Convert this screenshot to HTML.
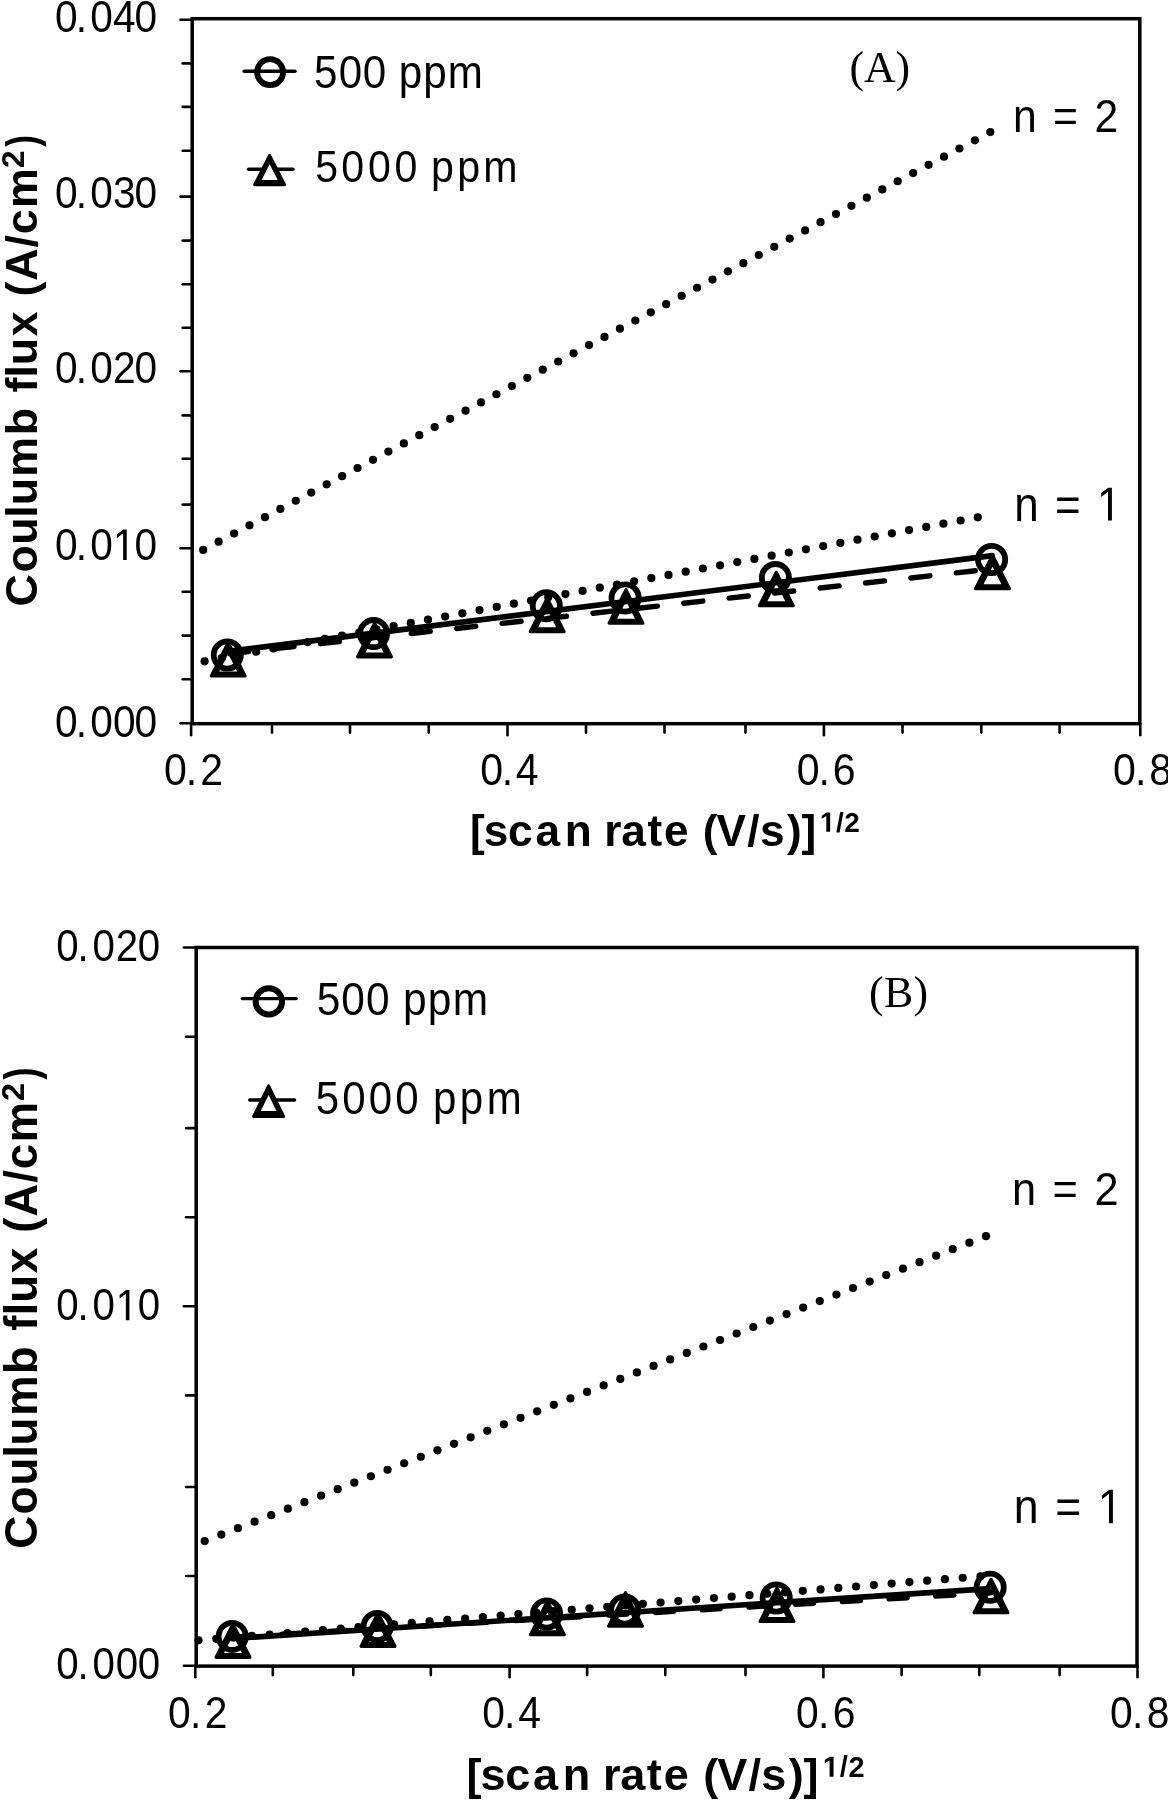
<!DOCTYPE html>
<html><head><meta charset="utf-8"><style>
html,body{margin:0;padding:0;background:#fff;}
svg{display:block;will-change:transform;}
text{fill:#000;}
</style></head><body>
<svg width="1168" height="1800" viewBox="0 0 1168 1800">
<rect width="1168" height="1800" fill="#fff"/>
<rect x="192.2" y="18.7" width="947.6" height="705" fill="none" stroke="#000" stroke-width="3.5"/>
<line x1="180.5" y1="723.3" x2="192.2" y2="723.3" stroke="#000" stroke-width="2.6" stroke-linecap="round"/>
<line x1="182.7" y1="679.3" x2="192.2" y2="679.3" stroke="#000" stroke-width="2.6" stroke-linecap="round"/>
<line x1="182.7" y1="635.6" x2="192.2" y2="635.6" stroke="#000" stroke-width="2.6" stroke-linecap="round"/>
<line x1="182.7" y1="591.8" x2="192.2" y2="591.8" stroke="#000" stroke-width="2.6" stroke-linecap="round"/>
<line x1="180.5" y1="548.3" x2="192.2" y2="548.3" stroke="#000" stroke-width="2.6" stroke-linecap="round"/>
<line x1="182.7" y1="504.6" x2="192.2" y2="504.6" stroke="#000" stroke-width="2.6" stroke-linecap="round"/>
<line x1="182.7" y1="458.7" x2="192.2" y2="458.7" stroke="#000" stroke-width="2.6" stroke-linecap="round"/>
<line x1="182.7" y1="415.4" x2="192.2" y2="415.4" stroke="#000" stroke-width="2.6" stroke-linecap="round"/>
<line x1="180.5" y1="371.3" x2="192.2" y2="371.3" stroke="#000" stroke-width="2.6" stroke-linecap="round"/>
<line x1="182.7" y1="327.8" x2="192.2" y2="327.8" stroke="#000" stroke-width="2.6" stroke-linecap="round"/>
<line x1="182.7" y1="284.2" x2="192.2" y2="284.2" stroke="#000" stroke-width="2.6" stroke-linecap="round"/>
<line x1="182.7" y1="240.6" x2="192.2" y2="240.6" stroke="#000" stroke-width="2.6" stroke-linecap="round"/>
<line x1="180.5" y1="196.6" x2="192.2" y2="196.6" stroke="#000" stroke-width="2.6" stroke-linecap="round"/>
<line x1="182.7" y1="150.7" x2="192.2" y2="150.7" stroke="#000" stroke-width="2.6" stroke-linecap="round"/>
<line x1="182.7" y1="106.9" x2="192.2" y2="106.9" stroke="#000" stroke-width="2.6" stroke-linecap="round"/>
<line x1="182.7" y1="63.4" x2="192.2" y2="63.4" stroke="#000" stroke-width="2.6" stroke-linecap="round"/>
<line x1="180.5" y1="19.8" x2="192.2" y2="19.8" stroke="#000" stroke-width="2.6" stroke-linecap="round"/>
<line x1="191.1" y1="723.7" x2="191.1" y2="735.2" stroke="#000" stroke-width="2.6" stroke-linecap="round"/>
<line x1="272" y1="723.7" x2="272" y2="732.6" stroke="#000" stroke-width="2.6" stroke-linecap="round"/>
<line x1="350" y1="723.7" x2="350" y2="732.6" stroke="#000" stroke-width="2.6" stroke-linecap="round"/>
<line x1="428.7" y1="723.7" x2="428.7" y2="732.6" stroke="#000" stroke-width="2.6" stroke-linecap="round"/>
<line x1="507.5" y1="723.7" x2="507.5" y2="735.2" stroke="#000" stroke-width="2.6" stroke-linecap="round"/>
<line x1="586" y1="723.7" x2="586" y2="732.6" stroke="#000" stroke-width="2.6" stroke-linecap="round"/>
<line x1="664.5" y1="723.7" x2="664.5" y2="732.6" stroke="#000" stroke-width="2.6" stroke-linecap="round"/>
<line x1="745.5" y1="723.7" x2="745.5" y2="732.6" stroke="#000" stroke-width="2.6" stroke-linecap="round"/>
<line x1="823.9" y1="723.7" x2="823.9" y2="735.2" stroke="#000" stroke-width="2.6" stroke-linecap="round"/>
<line x1="902.5" y1="723.7" x2="902.5" y2="732.6" stroke="#000" stroke-width="2.6" stroke-linecap="round"/>
<line x1="981.3" y1="723.7" x2="981.3" y2="732.6" stroke="#000" stroke-width="2.6" stroke-linecap="round"/>
<line x1="1059.6" y1="723.7" x2="1059.6" y2="732.6" stroke="#000" stroke-width="2.6" stroke-linecap="round"/>
<line x1="1140.3" y1="723.7" x2="1140.3" y2="735.2" stroke="#000" stroke-width="2.6" stroke-linecap="round"/>
<line x1="244.2" y1="71.2" x2="295" y2="71.2" stroke="#000" stroke-width="3.5" stroke-linecap="round"/>
<circle cx="270.1" cy="72.2" r="13.0" fill="none" stroke="#000" stroke-width="5.8"/>
<line x1="248.6" y1="169.2" x2="292.9" y2="169.2" stroke="#000" stroke-width="3.6" stroke-linecap="round"/>
<path d="M254.65,184.7 L269.6,155.31 L284.55,184.7 Z" fill="#000" stroke="#000" stroke-width="3.0" stroke-linejoin="round"/>
<path d="M261.53,180 L269.6,164.13 L277.67,180 Z" fill="#fff"/>
<path d="M211.3,675.9 L228.2,642.54 L245.1,675.9 Z" fill="#000" stroke="#000" stroke-width="3.2" stroke-linejoin="round"/>
<path d="M219.25,671.5 L228.2,653.83 L237.15,671.5 Z" fill="#fff"/>
<path d="M357.6,656.8 L374.5,623.44 L391.4,656.8 Z" fill="#000" stroke="#000" stroke-width="3.2" stroke-linejoin="round"/>
<path d="M365.55,652.4 L374.5,634.73 L383.45,652.4 Z" fill="#fff"/>
<path d="M530.3,631.6 L547.2,598.24 L564.1,631.6 Z" fill="#000" stroke="#000" stroke-width="3.2" stroke-linejoin="round"/>
<path d="M538.25,627.2 L547.2,609.53 L556.15,627.2 Z" fill="#fff"/>
<path d="M609.1,623.1 L626,589.74 L642.9,623.1 Z" fill="#000" stroke="#000" stroke-width="3.2" stroke-linejoin="round"/>
<path d="M617.05,618.7 L626,601.03 L634.95,618.7 Z" fill="#fff"/>
<path d="M759.4,605.7 L776.3,572.34 L793.2,605.7 Z" fill="#000" stroke="#000" stroke-width="3.2" stroke-linejoin="round"/>
<path d="M767.35,601.3 L776.3,583.63 L785.25,601.3 Z" fill="#fff"/>
<path d="M975.6,588.7 L992.5,555.34 L1009.4,588.7 Z" fill="#000" stroke="#000" stroke-width="3.2" stroke-linejoin="round"/>
<path d="M983.55,584.3 L992.5,566.63 L1001.45,584.3 Z" fill="#fff"/>
<circle cx="203.2" cy="549.9" r="4.1"/>
<circle cx="218.63" cy="541.71" r="4.1"/>
<circle cx="234.07" cy="533.52" r="4.1"/>
<circle cx="249.5" cy="525.32" r="4.1"/>
<circle cx="264.93" cy="517.13" r="4.1"/>
<circle cx="280.37" cy="508.94" r="4.1"/>
<circle cx="295.8" cy="500.75" r="4.1"/>
<circle cx="311.23" cy="492.55" r="4.1"/>
<circle cx="326.67" cy="484.36" r="4.1"/>
<circle cx="342.1" cy="476.17" r="4.1"/>
<circle cx="357.53" cy="467.98" r="4.1"/>
<circle cx="372.97" cy="459.79" r="4.1"/>
<circle cx="388.4" cy="451.59" r="4.1"/>
<circle cx="403.83" cy="443.4" r="4.1"/>
<circle cx="419.27" cy="435.21" r="4.1"/>
<circle cx="434.7" cy="427.02" r="4.1"/>
<circle cx="450.13" cy="418.83" r="4.1"/>
<circle cx="465.57" cy="410.63" r="4.1"/>
<circle cx="481" cy="402.44" r="4.1"/>
<circle cx="496.43" cy="394.25" r="4.1"/>
<circle cx="511.87" cy="386.06" r="4.1"/>
<circle cx="527.3" cy="377.86" r="4.1"/>
<circle cx="542.73" cy="369.67" r="4.1"/>
<circle cx="558.17" cy="361.48" r="4.1"/>
<circle cx="573.6" cy="353.29" r="4.1"/>
<circle cx="589.03" cy="345.1" r="4.1"/>
<circle cx="604.47" cy="336.9" r="4.1"/>
<circle cx="619.9" cy="328.71" r="4.1"/>
<circle cx="635.33" cy="320.52" r="4.1"/>
<circle cx="650.77" cy="312.33" r="4.1"/>
<circle cx="666.2" cy="304.14" r="4.1"/>
<circle cx="681.63" cy="295.94" r="4.1"/>
<circle cx="697.07" cy="287.75" r="4.1"/>
<circle cx="712.5" cy="279.56" r="4.1"/>
<circle cx="727.93" cy="271.37" r="4.1"/>
<circle cx="743.37" cy="263.17" r="4.1"/>
<circle cx="758.8" cy="254.98" r="4.1"/>
<circle cx="774.23" cy="246.79" r="4.1"/>
<circle cx="789.67" cy="238.6" r="4.1"/>
<circle cx="805.1" cy="230.41" r="4.1"/>
<circle cx="820.53" cy="222.21" r="4.1"/>
<circle cx="835.97" cy="214.02" r="4.1"/>
<circle cx="851.4" cy="205.83" r="4.1"/>
<circle cx="866.83" cy="197.64" r="4.1"/>
<circle cx="882.27" cy="189.45" r="4.1"/>
<circle cx="897.7" cy="181.25" r="4.1"/>
<circle cx="913.13" cy="173.06" r="4.1"/>
<circle cx="928.57" cy="164.87" r="4.1"/>
<circle cx="944" cy="156.68" r="4.1"/>
<circle cx="959.43" cy="148.48" r="4.1"/>
<circle cx="974.87" cy="140.29" r="4.1"/>
<circle cx="990.3" cy="132.1" r="4.1"/>
<circle cx="204.6" cy="661.3" r="4.1"/>
<circle cx="221.78" cy="658.1" r="4.1"/>
<circle cx="238.96" cy="654.9" r="4.1"/>
<circle cx="256.15" cy="651.7" r="4.1"/>
<circle cx="273.33" cy="648.5" r="4.1"/>
<circle cx="290.51" cy="645.3" r="4.1"/>
<circle cx="307.69" cy="642.1" r="4.1"/>
<circle cx="324.88" cy="638.9" r="4.1"/>
<circle cx="342.06" cy="635.7" r="4.1"/>
<circle cx="359.24" cy="632.5" r="4.1"/>
<circle cx="376.42" cy="629.3" r="4.1"/>
<circle cx="393.6" cy="626.1" r="4.1"/>
<circle cx="410.79" cy="622.9" r="4.1"/>
<circle cx="427.97" cy="619.7" r="4.1"/>
<circle cx="445.15" cy="616.5" r="4.1"/>
<circle cx="462.33" cy="613.3" r="4.1"/>
<circle cx="479.52" cy="610.1" r="4.1"/>
<circle cx="496.7" cy="606.9" r="4.1"/>
<circle cx="513.88" cy="603.7" r="4.1"/>
<circle cx="531.06" cy="600.5" r="4.1"/>
<circle cx="548.24" cy="597.3" r="4.1"/>
<circle cx="565.43" cy="594.1" r="4.1"/>
<circle cx="582.61" cy="590.9" r="4.1"/>
<circle cx="599.79" cy="587.7" r="4.1"/>
<circle cx="616.97" cy="584.5" r="4.1"/>
<circle cx="634.16" cy="581.3" r="4.1"/>
<circle cx="651.34" cy="578.1" r="4.1"/>
<circle cx="668.52" cy="574.9" r="4.1"/>
<circle cx="685.7" cy="571.7" r="4.1"/>
<circle cx="702.88" cy="568.5" r="4.1"/>
<circle cx="720.07" cy="565.3" r="4.1"/>
<circle cx="737.25" cy="562.1" r="4.1"/>
<circle cx="754.43" cy="558.9" r="4.1"/>
<circle cx="771.61" cy="555.7" r="4.1"/>
<circle cx="788.8" cy="552.5" r="4.1"/>
<circle cx="805.98" cy="549.3" r="4.1"/>
<circle cx="823.16" cy="546.1" r="4.1"/>
<circle cx="840.34" cy="542.9" r="4.1"/>
<circle cx="857.52" cy="539.7" r="4.1"/>
<circle cx="874.71" cy="536.5" r="4.1"/>
<circle cx="891.89" cy="533.3" r="4.1"/>
<circle cx="909.07" cy="530.1" r="4.1"/>
<circle cx="926.25" cy="526.9" r="4.1"/>
<circle cx="943.44" cy="523.7" r="4.1"/>
<circle cx="960.62" cy="520.5" r="4.1"/>
<circle cx="977.8" cy="517.3" r="4.1"/>
<line x1="228.3" y1="651.4" x2="992.3" y2="555.6" stroke="#000" stroke-width="5.6" stroke-linecap="round"/>
<line x1="229.58" y1="653.7" x2="992.3" y2="568.9" stroke="#000" stroke-width="5.4" stroke-linecap="round" stroke-dasharray="19.15 26.55"/>
<circle cx="227.3" cy="655" r="13.6" fill="none" stroke="#000" stroke-width="5.8"/>
<circle cx="373.6" cy="633.6" r="13.6" fill="none" stroke="#000" stroke-width="5.8"/>
<circle cx="546.3" cy="605.8" r="13.6" fill="none" stroke="#000" stroke-width="5.8"/>
<circle cx="625.1" cy="598" r="13.6" fill="none" stroke="#000" stroke-width="5.8"/>
<circle cx="775.4" cy="577.6" r="13.6" fill="none" stroke="#000" stroke-width="5.8"/>
<circle cx="991.6" cy="559.5" r="13.6" fill="none" stroke="#000" stroke-width="5.8"/>
<rect x="196.2" y="947.5" width="940.8" height="718.6" fill="none" stroke="#000" stroke-width="3.5"/>
<line x1="183.9" y1="1665.8" x2="196.2" y2="1665.8" stroke="#000" stroke-width="2.6" stroke-linecap="round"/>
<line x1="186.1" y1="1576" x2="196.2" y2="1576" stroke="#000" stroke-width="2.6" stroke-linecap="round"/>
<line x1="186.1" y1="1487" x2="196.2" y2="1487" stroke="#000" stroke-width="2.6" stroke-linecap="round"/>
<line x1="186.1" y1="1395.4" x2="196.2" y2="1395.4" stroke="#000" stroke-width="2.6" stroke-linecap="round"/>
<line x1="183.9" y1="1306.2" x2="196.2" y2="1306.2" stroke="#000" stroke-width="2.6" stroke-linecap="round"/>
<line x1="186.1" y1="1217.3" x2="196.2" y2="1217.3" stroke="#000" stroke-width="2.6" stroke-linecap="round"/>
<line x1="186.1" y1="1128.1" x2="196.2" y2="1128.1" stroke="#000" stroke-width="2.6" stroke-linecap="round"/>
<line x1="186.1" y1="1036.8" x2="196.2" y2="1036.8" stroke="#000" stroke-width="2.6" stroke-linecap="round"/>
<line x1="183.9" y1="947.5" x2="196.2" y2="947.5" stroke="#000" stroke-width="2.6" stroke-linecap="round"/>
<line x1="195.3" y1="1666.1" x2="195.3" y2="1677.2" stroke="#000" stroke-width="2.6" stroke-linecap="round"/>
<line x1="272.8" y1="1666.1" x2="272.8" y2="1675.1" stroke="#000" stroke-width="2.6" stroke-linecap="round"/>
<line x1="353.3" y1="1666.1" x2="353.3" y2="1675.1" stroke="#000" stroke-width="2.6" stroke-linecap="round"/>
<line x1="430.8" y1="1666.1" x2="430.8" y2="1675.1" stroke="#000" stroke-width="2.6" stroke-linecap="round"/>
<line x1="509.6" y1="1666.1" x2="509.6" y2="1677.2" stroke="#000" stroke-width="2.6" stroke-linecap="round"/>
<line x1="587.1" y1="1666.1" x2="587.1" y2="1675.1" stroke="#000" stroke-width="2.6" stroke-linecap="round"/>
<line x1="665.3" y1="1666.1" x2="665.3" y2="1675.1" stroke="#000" stroke-width="2.6" stroke-linecap="round"/>
<line x1="745.5" y1="1666.1" x2="745.5" y2="1675.1" stroke="#000" stroke-width="2.6" stroke-linecap="round"/>
<line x1="823.4" y1="1666.1" x2="823.4" y2="1677.2" stroke="#000" stroke-width="2.6" stroke-linecap="round"/>
<line x1="901.6" y1="1666.1" x2="901.6" y2="1675.1" stroke="#000" stroke-width="2.6" stroke-linecap="round"/>
<line x1="979.3" y1="1666.1" x2="979.3" y2="1675.1" stroke="#000" stroke-width="2.6" stroke-linecap="round"/>
<line x1="1059.6" y1="1666.1" x2="1059.6" y2="1675.1" stroke="#000" stroke-width="2.6" stroke-linecap="round"/>
<line x1="1137.5" y1="1666.1" x2="1137.5" y2="1677.2" stroke="#000" stroke-width="2.6" stroke-linecap="round"/>
<line x1="242.4" y1="998.6" x2="296.2" y2="998.6" stroke="#000" stroke-width="3.4" stroke-linecap="round"/>
<circle cx="268.85" cy="1001.4" r="13.2" fill="none" stroke="#000" stroke-width="6.0"/>
<line x1="249.8" y1="1100" x2="294.5" y2="1100" stroke="#000" stroke-width="3.6" stroke-linecap="round"/>
<path d="M253.61,1116.5 L268.6,1085.91 L283.59,1116.5 Z" fill="#000" stroke="#000" stroke-width="3.0" stroke-linejoin="round"/>
<path d="M260.71,1111.1 L268.6,1095 L276.49,1111.1 Z" fill="#fff"/>
<path d="M216.1,1657.3 L233,1623.94 L249.9,1657.3 Z" fill="#000" stroke="#000" stroke-width="3.2" stroke-linejoin="round"/>
<path d="M224.05,1652.9 L233,1635.23 L241.95,1652.9 Z" fill="#fff"/>
<path d="M361.1,1646.3 L378,1612.94 L394.9,1646.3 Z" fill="#000" stroke="#000" stroke-width="3.2" stroke-linejoin="round"/>
<path d="M369.05,1641.9 L378,1624.23 L386.95,1641.9 Z" fill="#fff"/>
<path d="M530.5,1634.7 L547.4,1601.34 L564.3,1634.7 Z" fill="#000" stroke="#000" stroke-width="3.2" stroke-linejoin="round"/>
<path d="M538.45,1630.3 L547.4,1612.63 L556.35,1630.3 Z" fill="#fff"/>
<path d="M608.6,1626.1 L625.5,1592.74 L642.4,1626.1 Z" fill="#000" stroke="#000" stroke-width="3.2" stroke-linejoin="round"/>
<path d="M616.55,1621.7 L625.5,1604.03 L634.45,1621.7 Z" fill="#fff"/>
<path d="M760.1,1621.4 L777,1588.04 L793.9,1621.4 Z" fill="#000" stroke="#000" stroke-width="3.2" stroke-linejoin="round"/>
<path d="M768.05,1617 L777,1599.33 L785.95,1617 Z" fill="#fff"/>
<path d="M974.1,1612.7 L991,1579.34 L1007.9,1612.7 Z" fill="#000" stroke="#000" stroke-width="3.2" stroke-linejoin="round"/>
<path d="M982.05,1608.3 L991,1590.63 L999.95,1608.3 Z" fill="#fff"/>
<circle cx="204.7" cy="1541.1" r="4.1"/>
<circle cx="221.32" cy="1534.61" r="4.1"/>
<circle cx="237.95" cy="1528.13" r="4.1"/>
<circle cx="254.57" cy="1521.64" r="4.1"/>
<circle cx="271.19" cy="1515.15" r="4.1"/>
<circle cx="287.82" cy="1508.66" r="4.1"/>
<circle cx="304.44" cy="1502.18" r="4.1"/>
<circle cx="321.06" cy="1495.69" r="4.1"/>
<circle cx="337.69" cy="1489.2" r="4.1"/>
<circle cx="354.31" cy="1482.71" r="4.1"/>
<circle cx="370.93" cy="1476.23" r="4.1"/>
<circle cx="387.56" cy="1469.74" r="4.1"/>
<circle cx="404.18" cy="1463.25" r="4.1"/>
<circle cx="420.8" cy="1456.77" r="4.1"/>
<circle cx="437.43" cy="1450.28" r="4.1"/>
<circle cx="454.05" cy="1443.79" r="4.1"/>
<circle cx="470.67" cy="1437.3" r="4.1"/>
<circle cx="487.3" cy="1430.82" r="4.1"/>
<circle cx="503.92" cy="1424.33" r="4.1"/>
<circle cx="520.54" cy="1417.84" r="4.1"/>
<circle cx="537.17" cy="1411.36" r="4.1"/>
<circle cx="553.79" cy="1404.87" r="4.1"/>
<circle cx="570.41" cy="1398.38" r="4.1"/>
<circle cx="587.04" cy="1391.89" r="4.1"/>
<circle cx="603.66" cy="1385.41" r="4.1"/>
<circle cx="620.29" cy="1378.92" r="4.1"/>
<circle cx="636.91" cy="1372.43" r="4.1"/>
<circle cx="653.53" cy="1365.94" r="4.1"/>
<circle cx="670.16" cy="1359.46" r="4.1"/>
<circle cx="686.78" cy="1352.97" r="4.1"/>
<circle cx="703.4" cy="1346.48" r="4.1"/>
<circle cx="720.03" cy="1340" r="4.1"/>
<circle cx="736.65" cy="1333.51" r="4.1"/>
<circle cx="753.27" cy="1327.02" r="4.1"/>
<circle cx="769.9" cy="1320.53" r="4.1"/>
<circle cx="786.52" cy="1314.05" r="4.1"/>
<circle cx="803.14" cy="1307.56" r="4.1"/>
<circle cx="819.77" cy="1301.07" r="4.1"/>
<circle cx="836.39" cy="1294.59" r="4.1"/>
<circle cx="853.01" cy="1288.1" r="4.1"/>
<circle cx="869.64" cy="1281.61" r="4.1"/>
<circle cx="886.26" cy="1275.12" r="4.1"/>
<circle cx="902.88" cy="1268.64" r="4.1"/>
<circle cx="919.51" cy="1262.15" r="4.1"/>
<circle cx="936.13" cy="1255.66" r="4.1"/>
<circle cx="952.75" cy="1249.17" r="4.1"/>
<circle cx="969.38" cy="1242.69" r="4.1"/>
<circle cx="986" cy="1236.2" r="4.1"/>
<circle cx="198.5" cy="1640.3" r="4.1"/>
<circle cx="216.27" cy="1638.85" r="4.1"/>
<circle cx="234.05" cy="1637.39" r="4.1"/>
<circle cx="251.82" cy="1635.94" r="4.1"/>
<circle cx="269.59" cy="1634.48" r="4.1"/>
<circle cx="287.36" cy="1633.03" r="4.1"/>
<circle cx="305.14" cy="1631.57" r="4.1"/>
<circle cx="322.91" cy="1630.12" r="4.1"/>
<circle cx="340.68" cy="1628.66" r="4.1"/>
<circle cx="358.45" cy="1627.21" r="4.1"/>
<circle cx="376.23" cy="1625.75" r="4.1"/>
<circle cx="394" cy="1624.3" r="4.1"/>
<circle cx="411.77" cy="1622.85" r="4.1"/>
<circle cx="429.55" cy="1621.39" r="4.1"/>
<circle cx="447.32" cy="1619.94" r="4.1"/>
<circle cx="465.09" cy="1618.48" r="4.1"/>
<circle cx="482.86" cy="1617.03" r="4.1"/>
<circle cx="500.64" cy="1615.57" r="4.1"/>
<circle cx="518.41" cy="1614.12" r="4.1"/>
<circle cx="536.18" cy="1612.66" r="4.1"/>
<circle cx="553.95" cy="1611.21" r="4.1"/>
<circle cx="571.73" cy="1609.75" r="4.1"/>
<circle cx="589.5" cy="1608.3" r="4.1"/>
<circle cx="607.27" cy="1606.85" r="4.1"/>
<circle cx="625.05" cy="1605.39" r="4.1"/>
<circle cx="642.82" cy="1603.94" r="4.1"/>
<circle cx="660.59" cy="1602.48" r="4.1"/>
<circle cx="678.36" cy="1601.03" r="4.1"/>
<circle cx="696.14" cy="1599.57" r="4.1"/>
<circle cx="713.91" cy="1598.12" r="4.1"/>
<circle cx="731.68" cy="1596.66" r="4.1"/>
<circle cx="749.45" cy="1595.21" r="4.1"/>
<circle cx="767.23" cy="1593.75" r="4.1"/>
<circle cx="785" cy="1592.3" r="4.1"/>
<circle cx="802.77" cy="1590.85" r="4.1"/>
<circle cx="820.55" cy="1589.39" r="4.1"/>
<circle cx="838.32" cy="1587.94" r="4.1"/>
<circle cx="856.09" cy="1586.48" r="4.1"/>
<circle cx="873.86" cy="1585.03" r="4.1"/>
<circle cx="891.64" cy="1583.57" r="4.1"/>
<circle cx="909.41" cy="1582.12" r="4.1"/>
<circle cx="927.18" cy="1580.66" r="4.1"/>
<circle cx="944.95" cy="1579.21" r="4.1"/>
<circle cx="962.73" cy="1577.75" r="4.1"/>
<circle cx="980.5" cy="1576.3" r="4.1"/>
<line x1="232.5" y1="1638.5" x2="990.8" y2="1588.6" stroke="#000" stroke-width="5.6" stroke-linecap="round"/>
<line x1="235.2" y1="1636.94" x2="990.8" y2="1592.9" stroke="#000" stroke-width="5.4" stroke-linecap="round" stroke-dasharray="18.14 28.64"/>
<circle cx="232.2" cy="1636.4" r="13.6" fill="none" stroke="#000" stroke-width="5.8"/>
<circle cx="377.2" cy="1626.5" r="13.6" fill="none" stroke="#000" stroke-width="5.8"/>
<circle cx="546.6" cy="1614" r="13.6" fill="none" stroke="#000" stroke-width="5.8"/>
<circle cx="624.7" cy="1610" r="13.6" fill="none" stroke="#000" stroke-width="5.8"/>
<circle cx="776.2" cy="1598" r="13.6" fill="none" stroke="#000" stroke-width="5.8"/>
<circle cx="990.2" cy="1587.3" r="13.6" fill="none" stroke="#000" stroke-width="5.8"/>
<text transform="translate(55.14,737.07) scale(0.92,1)" x="-0.14 22.50 38.16 62.79 86.23" y="0" font-family="Liberation Sans" font-weight="normal" font-size="44.21">0.000</text>
<path transform="translate(55.14,560.02) scale(0.92,1) translate(62.79,0) scale(0.02159,-0.02159)" d="M515,0L515,1237L197,1010L197,1180L530,1409L696,1409L696,0Z"/>
<text transform="translate(55.14,560.02) scale(0.92,1)" x="-0.14 22.50 38.16 86.23" y="0" font-family="Liberation Sans" font-weight="normal" font-size="44.21">0.00</text>
<text transform="translate(55.14,383.12) scale(0.92,1)" x="-0.14 22.50 38.16 62.79 86.23" y="0" font-family="Liberation Sans" font-weight="normal" font-size="44.21">0.020</text>
<text transform="translate(55.14,208.07) scale(0.92,1)" x="-0.14 22.50 38.16 62.79 86.23" y="0" font-family="Liberation Sans" font-weight="normal" font-size="44.21">0.030</text>
<text transform="translate(55.14,31.87) scale(0.92,1)" x="-0.14 22.50 38.16 62.79 86.23" y="0" font-family="Liberation Sans" font-weight="normal" font-size="44.21">0.040</text>
<text transform="translate(163.17,784.96) scale(0.92,1)" x="0.79 24.63 40.39" y="0" font-family="Liberation Sans" font-weight="normal" font-size="44.63">0.2</text>
<text transform="translate(479.85,784.96) scale(0.92,1)" x="0.48 23.85 39.14" y="0" font-family="Liberation Sans" font-weight="normal" font-size="44.63">0.4</text>
<text transform="translate(796.05,784.96) scale(0.92,1)" x="0.70 24.39 40.02" y="0" font-family="Liberation Sans" font-weight="normal" font-size="44.63">0.6</text>
<text transform="translate(1112.46,784.96) scale(0.92,1)" x="0.69 24.38 39.99" y="0" font-family="Liberation Sans" font-weight="normal" font-size="44.63">0.8</text>
<text transform="translate(470.30,845.53) scale(1.0,1)" x="-0.39 13.47 37.71 65.09 94.53 120.67 133.88 150.97 177.09 193.65 218.02 232.53 246.25 276.92 289.59 316.61 331.16" y="0" font-family="Liberation Sans" font-weight="bold" font-size="44.20">[scan rate (V/s)]</text>
<path transform="translate(819.39,831.84) scale(1.0,1) translate(0.40,0) scale(0.01364,-0.01364)" d="M478,0L478,1170L140,959L140,1180L493,1409L759,1409L759,0Z"/>
<text transform="translate(819.39,831.84) scale(1.0,1)" x="16.53 24.89" y="0" font-family="Liberation Sans" font-weight="bold" font-size="27.93">/2</text>
<text transform="rotate(-90) translate(-606.18,36.79) scale(1.0,1)" x="-0.36 33.62 61.40 88.38 101.03 129.46 170.87 202.26 213.61 240.89 269.87 298.11 309.61 325.48 358.76 371.96 398.09" y="0" font-family="Liberation Sans" font-weight="bold" font-size="44.84">Coulumb ﬂux (A/cm</text>
<text transform="rotate(-90) translate(-167.99,23.90) scale(1.0159,1)" x="0.00" y="0" font-family="Liberation Sans" font-weight="bold" font-size="31.08">2</text>
<text transform="rotate(-90) translate(-146.73,36.77) scale(0.7883,1)" x="0.00" y="0" font-family="Liberation Sans" font-weight="bold" font-size="44.95">)</text>
<text transform="translate(313.36,87.59) scale(0.92,1)" x="0.60 27.57 53.70 80.33 92.71 119.56 146.00" y="0" font-family="Liberation Sans" font-weight="normal" font-size="45.82">500 ppm</text>
<text transform="translate(313.16,181.62) scale(0.92,1)" x="2.32 30.43 59.61 88.53 113.22 128.14 156.56 184.88" y="0" font-family="Liberation Sans" font-weight="normal" font-size="44.71">5000 ppm</text>
<text transform="translate(849.38,81.58) scale(1.0,1)" x="-0.00 14.56 46.16" y="0" font-family="Liberation Serif" font-weight="normal" font-size="43.78">(A)</text>
<text transform="translate(1011.48,132.00) scale(0.92,1)" x="1.61 29.84 45.23 74.82 90.13" y="0" font-family="Liberation Sans" font-weight="normal" font-size="46.40">n = 2</text>
<path transform="translate(1013.07,520.60) scale(0.92,1) translate(91.17,0) scale(0.02335,-0.02335)" d="M515,0L515,1237L197,1010L197,1180L530,1409L696,1409L696,0Z"/>
<text transform="translate(1013.07,520.60) scale(0.92,1)" x="1.42 30.14 45.63 75.75" y="0" font-family="Liberation Sans" font-weight="normal" font-size="47.82">n = </text>
<text transform="translate(56.05,1679.47) scale(0.92,1)" x="0.30 23.37 39.57 64.85 88.94" y="0" font-family="Liberation Sans" font-weight="normal" font-size="43.78">0.000</text>
<path transform="translate(56.05,1320.17) scale(0.92,1) translate(64.85,0) scale(0.02138,-0.02138)" d="M515,0L515,1237L197,1010L197,1180L530,1409L696,1409L696,0Z"/>
<text transform="translate(56.05,1320.17) scale(0.92,1)" x="0.30 23.37 39.57 88.94" y="0" font-family="Liberation Sans" font-weight="normal" font-size="43.78">0.00</text>
<text transform="translate(56.05,960.87) scale(0.92,1)" x="0.30 23.37 39.57 64.85 88.94" y="0" font-family="Liberation Sans" font-weight="normal" font-size="43.78">0.020</text>
<text transform="translate(166.93,1728.17) scale(0.92,1)" x="1.06 25.14 41.23" y="0" font-family="Liberation Sans" font-weight="normal" font-size="44.35">0.2</text>
<text transform="translate(481.52,1728.17) scale(0.92,1)" x="0.75 24.37 39.99" y="0" font-family="Liberation Sans" font-weight="normal" font-size="44.35">0.4</text>
<text transform="translate(795.12,1728.17) scale(0.92,1)" x="0.97 24.91 40.85" y="0" font-family="Liberation Sans" font-weight="normal" font-size="44.35">0.6</text>
<text transform="translate(1109.22,1728.17) scale(0.92,1)" x="0.96 24.89 40.82" y="0" font-family="Liberation Sans" font-weight="normal" font-size="44.35">0.8</text>
<text transform="translate(466.77,1790.35) scale(1.0,1)" x="-0.40 13.71 38.38 66.20 96.07 122.70 136.12 153.52 180.08 196.89 221.71 236.43 250.40 281.61 294.48 321.95 336.76" y="0" font-family="Liberation Sans" font-weight="bold" font-size="45.06">[scan rate (V/s)]</text>
<path transform="translate(822.34,1776.82) scale(1.0,1) translate(0.47,0) scale(0.01416,-0.01416)" d="M478,0L478,1170L140,959L140,1180L493,1409L759,1409L759,0Z"/>
<text transform="translate(822.34,1776.82) scale(1.0,1)" x="17.32 26.09" y="0" font-family="Liberation Sans" font-weight="bold" font-size="29.01">/2</text>
<text transform="rotate(-90) translate(-1548.51,37.39) scale(1.0,1)" x="-0.17 34.06 62.96 90.82 103.06 132.40 174.27 206.22 217.82 245.66 275.21 303.96 315.71 331.88 365.83 379.28 405.91" y="0" font-family="Liberation Sans" font-weight="bold" font-size="45.81">Coulumb ﬂux (A/cm</text>
<text transform="rotate(-90) translate(-1101.12,24.40) scale(1.0055,1)" x="0.00" y="0" font-family="Liberation Sans" font-weight="bold" font-size="32.22">2</text>
<text transform="rotate(-90) translate(-1079.44,37.39) scale(0.789,1)" x="0.00" y="0" font-family="Liberation Sans" font-weight="bold" font-size="45.81">)</text>
<text transform="translate(316.09,1014.72) scale(0.92,1)" x="0.70 27.45 54.24 81.28 94.54 121.45 148.54" y="0" font-family="Liberation Sans" font-weight="normal" font-size="46.15">500 ppm</text>
<text transform="translate(313.46,1114.41) scale(0.92,1)" x="2.48 31.36 60.05 88.96 115.11 129.91 159.05 188.27" y="0" font-family="Liberation Sans" font-weight="normal" font-size="45.71">5000 ppm</text>
<text transform="translate(868.98,1006.58) scale(1.0,1)" x="0.10 14.97 44.47" y="0" font-family="Liberation Serif" font-weight="normal" font-size="43.78">(B)</text>
<text transform="translate(1010.42,1204.60) scale(0.92,1)" x="1.63 30.28 45.89 75.93 91.47" y="0" font-family="Liberation Sans" font-weight="normal" font-size="47.12">n = 2</text>
<path transform="translate(1012.50,1523.20) scale(0.92,1) translate(92.63,0) scale(0.02370,-0.02370)" d="M515,0L515,1237L197,1010L197,1180L530,1409L696,1409L696,0Z"/>
<text transform="translate(1012.50,1523.20) scale(0.92,1)" x="1.45 30.63 46.37 76.97" y="0" font-family="Liberation Sans" font-weight="normal" font-size="48.55">n = </text>
</svg>
</body></html>
